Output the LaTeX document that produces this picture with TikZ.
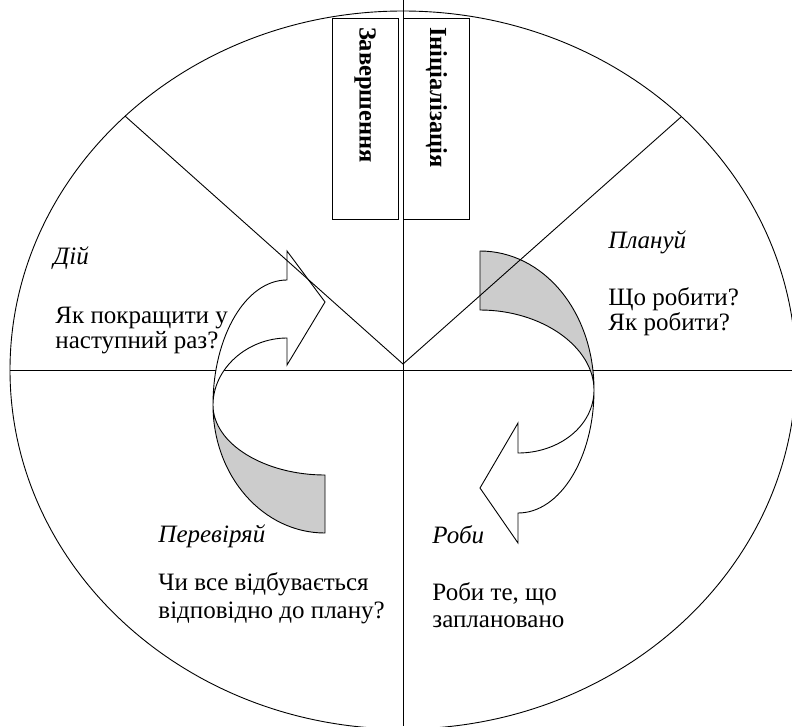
\documentclass[tikz,border=0pt]{standalone}
\usepackage{fontspec}
\setmainfont{Liberation Serif}
\begin{document}
\begin{tikzpicture}[x=1pt,y=-1pt, line width=0.9pt, line join=miter,
  lbl/.style={anchor=base west, inner sep=0pt, font=\fontsize{25}{27}\selectfont},
  ttl/.style={anchor=base west, inner sep=0pt, font=\fontsize{25}{27}\selectfont\itshape},
  vbox/.style={draw, rotate=-90, minimum width=201pt, minimum height=66pt, inner xsep=9pt, inner ysep=0pt, text width=183pt, align=left, font=\fontsize{24.5}{26}\selectfont\bfseries},
  back/.style={draw, fill=black!20},
  front/.style={draw, fill=white}]
\useasboundingbox (0,0) rectangle (792,726);
\coordinate (C) at (403,370);
\coordinate (A) at (403,364);
\coordinate (L) at (10,370);
\coordinate (R) at (796,370);
\coordinate (T) at (403,0);
\coordinate (B) at (403,726);
\coordinate (DL) at (125,116);
\coordinate (DR) at (681,117);
% outer ellipse and horizontal axis
\draw (C) ellipse [x radius=393pt, y radius=359pt];
\draw (L) -- (R);
% right curved arrow (Plan -> Do)
\draw[back] (480,251) .. controls (543,251) and (594,311) .. (594,390)
  .. controls (594,347) and (542,310) .. (480,310) -- cycle;
\draw[front] (594,390) .. controls (594,458) and (560,513) .. (518,513)
  -- (518,543) -- (480,488) -- (518,423) -- (518,453)
  .. controls (559,453) and (594,426) .. (594,390) -- cycle;
% left curved arrow (Check -> Act)
\draw[back] (325,533) .. controls (263,533) and (213,476) .. (213,405)
  .. controls (213,444) and (265,475) .. (325,475) -- cycle;
\draw[front] (213,405) .. controls (213,336) and (246,280) .. (287,280)
  -- (287,251) -- (325,302) -- (287,365) -- (287,338)
  .. controls (248,338) and (213,368) .. (213,405) -- cycle;
% diagonals and vertical axis
\draw (DL) -- (A) -- (DR);
\draw (T) -- (B);
% vertical boxes
\node[vbox] (zav) at (365,118.5) {Завершення};
\node[vbox] (ini) at (436.5,118.5) {Ініціалізація};
% labels
\node[ttl] (dii) at (53,264) {Дій};
\node[lbl] (diit) at (55,323) {\baselineskip=25pt\vtop{\hbox{Як покращити у}\hbox{наступний раз?}}};
\node[ttl] (plan) at (608,248) {Плануй};
\node[lbl] (plant) at (608,305) {\baselineskip=25pt\vtop{\hbox{Що робити?}\hbox{Як робити?}}};
\node[ttl] (perev) at (158,542) {Перевіряй};
\node[lbl] (perevt) at (158,590) {\baselineskip=28pt\vtop{\hbox{Чи все відбувається}\hbox{відповідно до плану?}}};
\node[ttl] (robi) at (432,543) {Роби};
\node[lbl] (robit) at (432,600) {\baselineskip=27pt\vtop{\hbox{Роби те, що}\hbox{заплановано}}};
\end{tikzpicture}
\end{document}
